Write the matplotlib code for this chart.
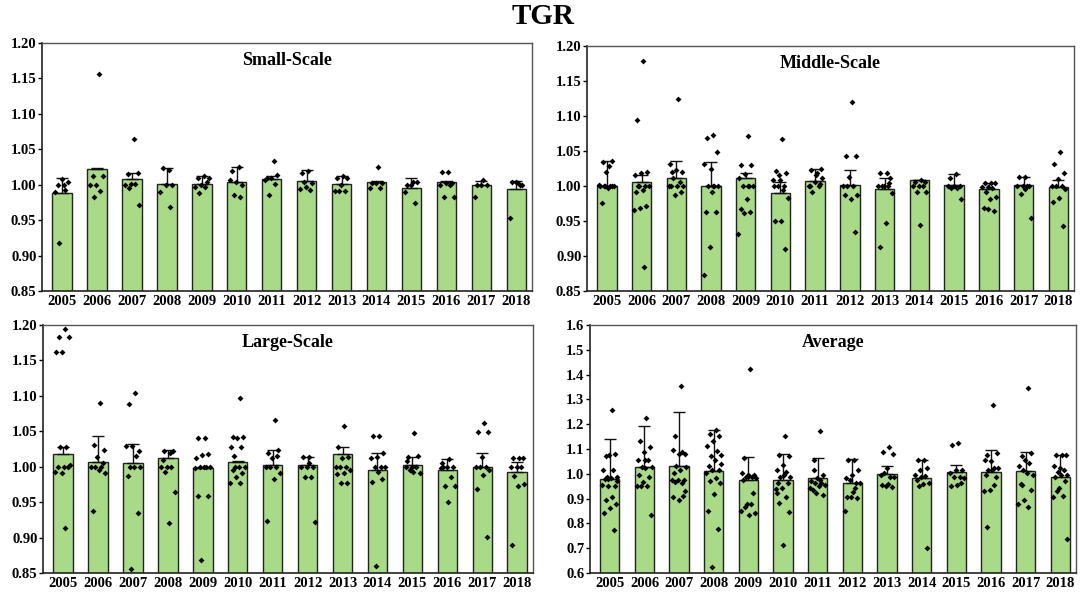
import numpy as np
import matplotlib
matplotlib.use("Agg")
import matplotlib.pyplot as plt
from matplotlib.ticker import FormatStrFormatter

years = ["2005", "2006", "2007", "2008", "2009", "2010", "2011",
         "2012", "2013", "2014", "2015", "2016", "2017", "2018"]

# ---------------- Small-Scale ----------------
small_bar = [0.988, 1.022, 1.008, 1.001, 1.001, 1.004, 1.008, 1.005, 1.001, 1.004, 0.996, 1.004, 1.000, 0.994]
small_err = [0.021, 0.001, 0.009, 0.022, 0.012, 0.021, 0.004, 0.016, 0.012, 0.001, 0.013, 0.001, 0.005, 0.011]
small_pts = [
    [1.000, 1.000, 1.004, 1.008, 0.990, 0.992, 0.918],
    [1.156, 1.013, 1.013, 1.000, 1.000, 0.991, 0.982],
    [1.064, 1.015, 1.016, 1.001, 1.000, 1.001, 0.996, 0.971],
    [1.021, 1.023, 1.000, 1.000, 0.990, 0.969],
    [1.013, 1.009, 1.004, 1.000, 0.997, 0.997, 0.988, 1.009],
    [1.025, 1.019, 1.000, 1.004, 1.006, 0.982, 0.986],
    [1.033, 1.010, 1.014, 1.010, 1.006, 1.001, 0.985],
    [1.019, 1.017, 1.002, 0.997, 0.994, 0.993, 1.004],
    [1.013, 1.010, 1.009, 1.000, 0.991, 0.991, 0.991],
    [1.025, 1.003, 1.003, 1.003, 0.996, 0.996],
    [1.004, 1.000, 1.004, 0.999, 0.990, 0.974],
    [1.018, 1.018, 1.002, 1.002, 1.000, 1.000, 0.982, 0.982],
    [1.007, 1.000, 1.000, 1.000, 0.982],
    [1.002, 1.004, 1.000, 1.004, 0.953, 1.000],
]

# ---------------- Middle-Scale ----------------
middle_bar = [1.000, 1.006, 1.012, 1.000, 1.012, 0.990, 1.007, 1.001, 0.996, 1.008, 1.001, 0.996, 1.001, 0.999]
middle_err = [0.036, 0.010, 0.024, 0.034, 0.006, 0.016, 0.017, 0.022, 0.015, 0.001, 0.016, 0.008, 0.012, 0.010]
middle_pts = [
    [1.028, 1.035, 1.036, 1.020, 1.000, 1.000, 1.000, 1.000, 0.997, 0.976, 1.000, 1.000, 1.002],
    [1.178, 1.094, 1.020, 1.018, 1.016, 1.000, 1.000, 1.000, 0.994, 0.992, 0.972, 0.968, 0.966, 0.885, 1.000],
    [1.124, 1.020, 1.020, 1.023, 1.031, 1.006, 1.011, 1.000, 1.000, 1.000, 0.992, 0.987, 1.000],
    [1.073, 1.068, 1.049, 1.025, 1.032, 1.000, 1.000, 1.000, 0.992, 0.963, 0.963, 0.913, 0.873, 1.000],
    [1.071, 1.030, 1.030, 1.017, 1.011, 1.000, 1.000, 1.000, 0.981, 0.967, 0.963, 0.961, 0.932, 1.000],
    [1.067, 1.021, 1.018, 1.009, 1.000, 1.000, 1.000, 0.983, 0.950, 0.950, 0.910, 1.016, 1.009, 0.994],
    [1.018, 1.023, 1.025, 1.006, 1.000, 1.000, 0.992, 1.011, 1.016, 1.000, 1.003],
    [1.120, 1.043, 1.043, 1.013, 1.000, 1.000, 1.000, 0.987, 0.982, 0.987, 0.935],
    [1.018, 1.018, 1.011, 1.000, 1.000, 1.000, 1.000, 0.990, 0.947, 0.913, 1.005],
    [1.009, 1.006, 1.006, 1.000, 1.000, 1.000, 0.992, 0.991, 0.944],
    [1.017, 1.011, 1.000, 1.000, 1.000, 0.997, 0.997, 0.981],
    [1.004, 1.004, 1.004, 0.999, 0.998, 0.997, 0.992, 0.985, 0.982, 0.968, 0.965, 0.967],
    [1.013, 1.013, 1.000, 1.000, 1.000, 1.000, 0.988, 0.955, 0.996],
    [1.049, 1.032, 1.019, 1.010, 1.000, 1.000, 1.000, 0.996, 0.983, 0.977, 0.943],
]

# ---------------- Large-Scale ----------------
large_bar = [1.018, 1.007, 1.005, 1.012, 0.998, 1.007, 1.003, 1.002, 1.018, 0.996, 1.003, 0.996, 1.000, 0.992]
large_err = [0.010, 0.036, 0.027, 0.011, 0.002, 0.001, 0.020, 0.012, 0.010, 0.024, 0.011, 0.015, 0.019, 0.015]
large_pts = [
    [1.194, 1.183, 1.183, 1.162, 1.162, 1.028, 1.028, 1.003, 1.000, 1.000, 1.000, 0.991, 0.993, 0.913],
    [1.090, 1.031, 1.024, 1.014, 1.000, 1.000, 1.000, 0.991, 0.996, 0.937, 1.005],
    [1.104, 1.089, 1.022, 1.029, 1.029, 1.015, 1.000, 1.000, 1.000, 0.987, 0.934, 0.856],
    [1.019, 1.022, 1.022, 1.000, 1.000, 1.000, 0.993, 0.965, 0.921, 1.010],
    [1.040, 1.040, 1.018, 1.016, 1.012, 1.000, 1.000, 1.000, 1.000, 0.959, 0.959, 0.869, 0.998],
    [1.097, 1.042, 1.042, 1.040, 1.028, 1.028, 1.000, 1.000, 1.000, 0.996, 0.991, 0.986, 0.977, 0.977, 1.015],
    [1.066, 1.019, 1.023, 1.012, 1.000, 1.000, 1.000, 0.991, 0.982, 0.923, 1.015],
    [1.014, 1.014, 1.000, 1.000, 1.000, 0.986, 0.986, 0.922, 1.005],
    [1.058, 1.028, 1.014, 1.012, 1.000, 1.000, 1.000, 0.996, 0.991, 0.990, 0.977, 0.977],
    [1.043, 1.043, 1.020, 1.014, 1.012, 1.000, 1.000, 1.000, 0.992, 0.979, 0.982, 0.860],
    [1.048, 1.014, 1.015, 1.000, 1.000, 1.000, 0.996, 0.991, 0.993, 1.008],
    [1.011, 1.000, 1.000, 1.000, 0.998, 0.986, 0.973, 0.973, 0.950, 1.005],
    [1.062, 1.049, 1.049, 1.014, 1.000, 1.000, 1.000, 0.996, 0.989, 0.969, 0.901],
    [1.012, 1.012, 1.012, 0.999, 0.999, 0.999, 0.987, 0.975, 0.973, 0.890],
]

# ---------------- Average ----------------
avg_bar = [0.978, 1.027, 1.032, 1.013, 0.976, 0.973, 0.983, 0.962, 1.000, 0.983, 1.007, 1.009, 1.013, 0.989]
avg_err = [0.162, 0.167, 0.217, 0.162, 0.090, 0.106, 0.080, 0.097, 0.030, 0.074, 0.029, 0.088, 0.074, 0.088]
avg_pts = [
    [1.258, 1.070, 1.081, 1.075, 1.016, 1.016, 0.989, 0.989, 0.983, 0.978, 0.949, 0.949, 0.956, 0.906, 0.895, 0.877, 0.861, 0.841, 0.774, 0.978, 0.970],
    [1.225, 1.131, 1.108, 1.086, 1.057, 1.057, 1.027, 1.027, 1.023, 0.996, 0.989, 0.965, 0.952, 0.950, 0.952, 0.834, 1.057],
    [1.355, 1.151, 1.081, 1.081, 1.094, 1.086, 1.032, 1.027, 1.016, 1.003, 0.976, 0.976, 0.973, 0.962, 0.965, 0.930, 0.895, 0.906, 0.909],
    [1.175, 1.161, 1.151, 1.131, 1.113, 1.090, 1.070, 1.077, 1.057, 1.030, 1.016, 1.016, 1.005, 0.983, 0.969, 0.963, 0.919, 0.848, 0.778, 0.623, 1.040],
    [1.423, 1.063, 0.996, 0.996, 1.003, 0.989, 0.989, 0.983, 0.990, 0.976, 0.922, 0.879, 0.848, 0.879, 0.868, 0.841, 0.834],
    [1.153, 1.077, 1.070, 1.036, 1.016, 1.009, 0.989, 0.989, 0.996, 0.962, 0.962, 0.942, 0.938, 0.908, 0.882, 0.844, 0.713, 0.922],
    [1.174, 1.057, 0.996, 0.983, 0.969, 0.962, 0.962, 0.956, 0.949, 0.935, 0.915, 0.922, 0.942, 0.976, 1.016],
    [1.057, 1.057, 1.016, 0.996, 0.983, 0.962, 0.976, 0.962, 0.925, 0.908, 0.902, 0.906, 0.848, 0.942],
    [1.108, 1.086, 1.081, 1.023, 0.996, 0.989, 1.003, 0.989, 0.960, 0.956, 0.946, 0.952],
    [1.057, 1.057, 1.023, 0.989, 0.996, 0.992, 0.949, 0.962, 0.960, 0.976, 0.700, 1.016],
    [1.124, 1.118, 1.016, 1.016, 1.003, 0.989, 0.989, 0.982, 0.956, 0.949, 0.962],
    [1.276, 1.077, 1.083, 1.050, 1.057, 1.023, 1.016, 1.023, 1.016, 0.996, 0.989, 0.935, 0.929, 0.956, 0.787],
    [1.347, 1.070, 1.083, 1.057, 1.030, 1.043, 1.016, 0.996, 1.003, 0.960, 0.935, 0.895, 0.879, 0.868, 0.956],
    [1.077, 1.077, 1.077, 1.023, 1.030, 1.016, 1.009, 0.996, 0.996, 0.989, 0.969, 0.942, 0.906, 0.909, 0.929, 0.736],
]

titles = ["Small-Scale", "Middle-Scale", "Large-Scale", "Average"]

# ---------------- drawing ----------------
plt.rcParams["font.family"] = ["Liberation Serif", "DejaVu Serif"]
plt.rcParams["font.weight"] = "bold"

fig = plt.figure(figsize=(10.86, 5.92), dpi=100)
fig.text(0.5, 0.972, "TGR", ha="center", va="center", fontsize=21, fontweight="bold")

rects = [
    [0.0387, 0.5084, 0.4512, 0.4189],
    [0.5405, 0.5084, 0.4484, 0.4139],
    [0.0396, 0.0321, 0.4512, 0.4189],
    [0.5433, 0.0321, 0.4475, 0.4189],
]
panels = [
    (small_bar, small_err, small_pts, (0.85, 1.20), np.arange(0.85, 1.2001, 0.05), "%.2f"),
    (middle_bar, middle_err, middle_pts, (0.85, 1.20), np.arange(0.85, 1.2001, 0.05), "%.2f"),
    (large_bar, large_err, large_pts, (0.85, 1.20), np.arange(0.85, 1.2001, 0.05), "%.2f"),
    (avg_bar, avg_err, avg_pts, (0.6, 1.6), np.arange(0.6, 1.6001, 0.1), "%.1f"),
]

bar_color = "#A8DA88"
golden = 0.6180339887

for rect, title, (bars, errs, pts, ylim, yt, fmt) in zip(rects, titles, panels):
    ax = fig.add_axes(rect)
    x = np.arange(len(years))
    ax.bar(x, bars, width=0.56, color=bar_color, edgecolor="#222222",
           linewidth=1.0, zorder=2, bottom=0)
    ax.errorbar(x, bars, yerr=[np.zeros(len(errs)), errs], fmt="none",
                ecolor="#111111", elinewidth=1.0, capsize=4, capthick=1.0, zorder=3)
    for i, group in enumerate(pts):
        n = len(group)
        offs = np.array([(((j + 1) * golden) % 1.0 - 0.5) * 0.46 for j in range(n)])
        ax.scatter(x[i] + offs, group, marker="D", s=9, color="black",
                   linewidths=0, zorder=4, clip_on=False)
    ax.set_xlim(-0.57, 13.45)
    ax.set_ylim(*ylim)
    ax.set_yticks(yt)
    ax.yaxis.set_major_formatter(FormatStrFormatter(fmt))
    ax.set_xticks(x)
    ax.set_xticklabels(years)
    for lab in ax.get_xticklabels() + ax.get_yticklabels():
        lab.set_fontweight("bold")
        lab.set_fontsize(10.5)
    ax.tick_params(axis="y", direction="out", length=3, width=1, pad=1)
    ax.tick_params(axis="x", direction="out", length=0, pad=3)
    for side in ["top", "right"]:
        ax.spines[side].set_color("#555555")
        ax.spines[side].set_linewidth(1.0)
    for side in ["left", "bottom"]:
        ax.spines[side].set_color("#222222")
        ax.spines[side].set_linewidth(1.2)
    ax.text(0.5, 0.965, title, transform=ax.transAxes, ha="center", va="top",
            fontsize=13, fontweight="bold")

fig.savefig("out.png", dpi=100)
